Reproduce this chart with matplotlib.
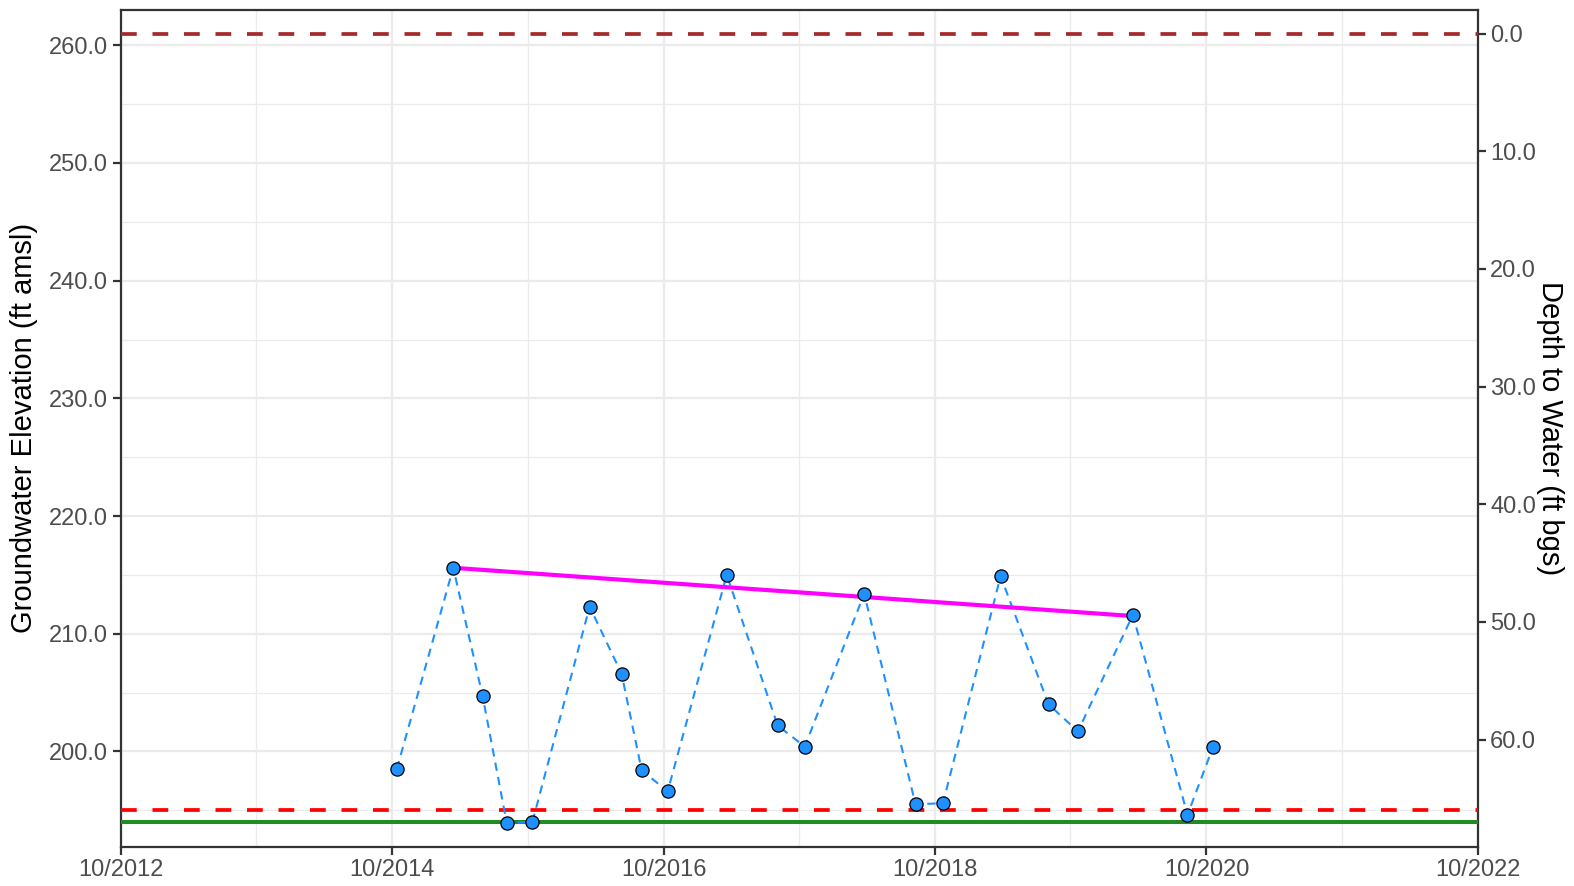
import pandas as pd
import matplotlib.pyplot as plt
import matplotlib.dates as mdates
from matplotlib.ticker import MultipleLocator, FormatStrFormatter

plt.rcParams['font.family'] = ['Liberation Sans', 'DejaVu Sans']

# measured groundwater elevations (ft amsl)
dates = ['2014-10-14', '2015-03-15', '2015-06-02', '2015-08-06', '2015-10-14',
         '2016-03-16', '2016-06-10', '2016-08-03', '2016-10-12', '2017-03-20',
         '2017-08-04', '2017-10-16', '2018-03-25', '2018-08-10', '2018-10-23',
         '2019-03-27', '2019-08-03', '2019-10-21', '2020-03-17', '2020-08-11',
         '2020-10-19']
elev = [198.5, 215.6, 204.7, 193.9, 194.0,
        212.3, 206.6, 198.4, 196.6, 215.0,
        202.2, 200.4, 213.4, 195.5, 195.6,
        214.9, 204.0, 201.7, 211.6, 194.6,
        200.4]

# spring trend line
trend_dates = ['2015-03-15', '2020-03-17']
trend_vals = [215.6, 211.5]

ground_surface = 261.0
threshold_red = 195.0
threshold_green = 194.0

x_start, x_end = '2012-10-01', '2022-10-01'
y_low, y_high = 191.9, 263.0

df = pd.DataFrame({'date': pd.to_datetime(dates), 'elev': elev})
trend = pd.DataFrame({'date': pd.to_datetime(trend_dates), 'elev': trend_vals})

fig = plt.figure(figsize=(15.74, 8.86), dpi=100)
ax = fig.add_axes([120.7/1574, 1 - 846.7/886, (1477.7-120.7)/1574, (846.7-10)/886])

ax.axhline(ground_surface, color='#A52A2A', lw=2.7, dashes=(4.2, 4.2), zorder=3)
ax.axhline(threshold_red, color='#FF0000', lw=2.7, dashes=(4.2, 4.2), zorder=3)
ax.axhline(threshold_green, color='#228B22', lw=2.9, zorder=3)

ax.plot(df['date'], df['elev'], color='#1E90FF', lw=1.5, dashes=(4, 3), zorder=4)
ax.plot(trend['date'], trend['elev'], color='#FF00FF', lw=3.0, zorder=5)
ax.plot(df['date'], df['elev'], ls='none', marker='o', ms=9.5,
        mfc='#1E90FF', mec='black', mew=0.9, zorder=6)

ax.set_xlim(pd.Timestamp(x_start), pd.Timestamp(x_end))
ax.set_ylim(y_low, y_high)

ax.xaxis.set_major_locator(mdates.MonthLocator(bymonth=10, bymonthday=1, interval=24))
ax.xaxis.set_minor_locator(mdates.MonthLocator(bymonth=10, bymonthday=1, interval=12))
ax.xaxis.set_major_formatter(mdates.DateFormatter('%m/%Y'))
ax.yaxis.set_major_locator(MultipleLocator(10))
ax.yaxis.set_minor_locator(MultipleLocator(5))
ax.yaxis.set_major_formatter(FormatStrFormatter('%.1f'))

ax.grid(which='major', color='#EBEBEB', lw=1.6, zorder=0)
ax.grid(which='minor', color='#EBEBEB', lw=0.9, zorder=0)
ax.set_axisbelow(True)

ax.tick_params(which='major', length=6, width=1.6, color='#333333',
               labelsize=17, labelcolor='#4D4D4D', pad=3)
ax.tick_params(which='minor', length=0)
for s in ax.spines.values():
    s.set_color('#333333')
    s.set_linewidth(1.6)

ax.set_ylabel('Groundwater Elevation (ft amsl)', fontsize=21, color='black', labelpad=8)

ax2 = ax.twinx()
ax2.set_ylim(ground_surface - y_low, ground_surface - y_high)
ax2.yaxis.set_major_locator(MultipleLocator(10))
ax2.yaxis.set_major_formatter(FormatStrFormatter('%.1f'))
ax2.tick_params(length=6, width=1.6, color='#333333', labelsize=17,
                labelcolor='#4D4D4D', pad=3)
for s in ax2.spines.values():
    s.set_visible(False)
ax2.set_ylabel('Depth to Water (ft bgs)', fontsize=21, color='black',
               rotation=-90, labelpad=20)

fig.savefig('out.png', dpi=100)
